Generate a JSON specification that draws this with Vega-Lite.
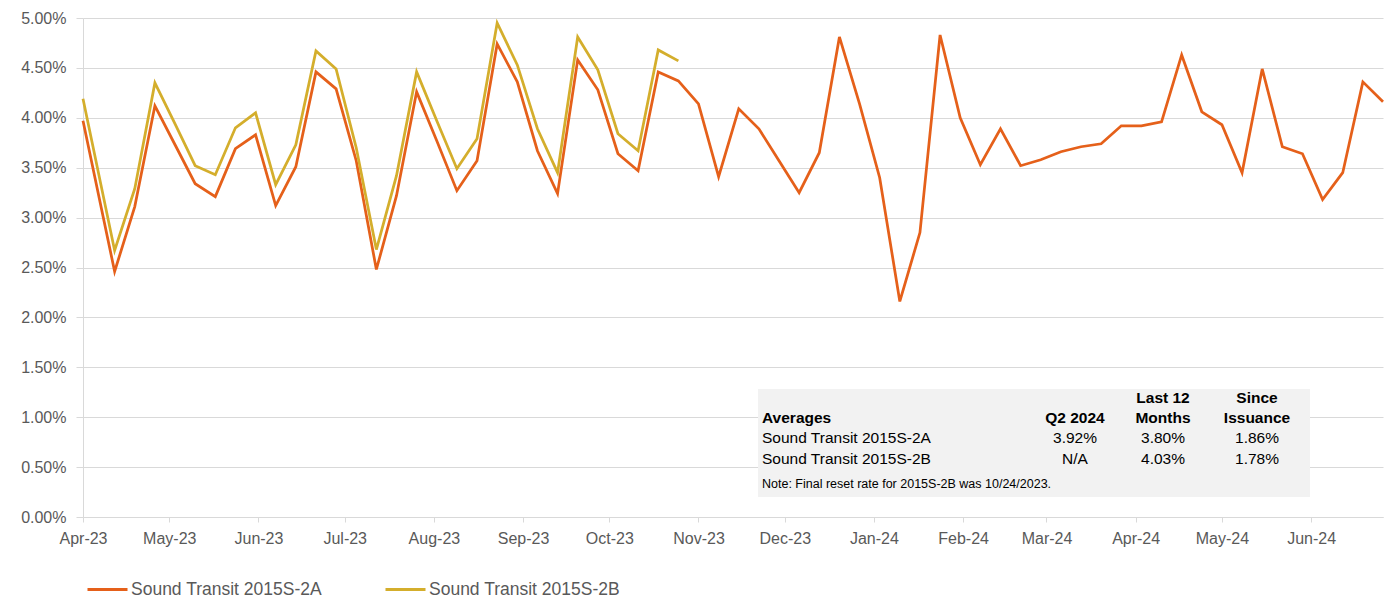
{
  "$schema": "https://vega.github.io/schema/vega-lite/v6.json",
  "width": 1300,
  "height": 499,
  "autosize": {"type": "none"},
  "padding": {"left": 83, "top": 18, "right": 3, "bottom": 83},
  "background": "white",
  "config": {"font": "Liberation Sans", "view": {"stroke": null}},
  "datasets": {
    "rates": [
      {"date": "2023-04-01T00:00", "series": "Sound Transit 2015S-2A", "rate": 0.0397},
      {"date": "2023-04-12T00:00", "series": "Sound Transit 2015S-2A", "rate": 0.0246},
      {"date": "2023-04-19T00:00", "series": "Sound Transit 2015S-2A", "rate": 0.0311},
      {"date": "2023-04-26T00:00", "series": "Sound Transit 2015S-2A", "rate": 0.0412},
      {"date": "2023-05-03T00:00", "series": "Sound Transit 2015S-2A", "rate": 0.0373},
      {"date": "2023-05-10T00:00", "series": "Sound Transit 2015S-2A", "rate": 0.0334},
      {"date": "2023-05-17T00:00", "series": "Sound Transit 2015S-2A", "rate": 0.0321},
      {"date": "2023-05-24T00:00", "series": "Sound Transit 2015S-2A", "rate": 0.0369},
      {"date": "2023-05-31T00:00", "series": "Sound Transit 2015S-2A", "rate": 0.0383},
      {"date": "2023-06-07T00:00", "series": "Sound Transit 2015S-2A", "rate": 0.0312},
      {"date": "2023-06-14T00:00", "series": "Sound Transit 2015S-2A", "rate": 0.0351},
      {"date": "2023-06-21T00:00", "series": "Sound Transit 2015S-2A", "rate": 0.0446},
      {"date": "2023-06-28T00:00", "series": "Sound Transit 2015S-2A", "rate": 0.0429},
      {"date": "2023-07-05T00:00", "series": "Sound Transit 2015S-2A", "rate": 0.0357},
      {"date": "2023-07-12T00:00", "series": "Sound Transit 2015S-2A", "rate": 0.0248},
      {"date": "2023-07-19T00:00", "series": "Sound Transit 2015S-2A", "rate": 0.0322},
      {"date": "2023-07-26T00:00", "series": "Sound Transit 2015S-2A", "rate": 0.0426},
      {"date": "2023-08-02T00:00", "series": "Sound Transit 2015S-2A", "rate": 0.0377},
      {"date": "2023-08-09T00:00", "series": "Sound Transit 2015S-2A", "rate": 0.0327},
      {"date": "2023-08-16T00:00", "series": "Sound Transit 2015S-2A", "rate": 0.0357},
      {"date": "2023-08-23T00:00", "series": "Sound Transit 2015S-2A", "rate": 0.0474},
      {"date": "2023-08-30T00:00", "series": "Sound Transit 2015S-2A", "rate": 0.0436},
      {"date": "2023-09-06T00:00", "series": "Sound Transit 2015S-2A", "rate": 0.0367},
      {"date": "2023-09-13T00:00", "series": "Sound Transit 2015S-2A", "rate": 0.0324},
      {"date": "2023-09-20T00:00", "series": "Sound Transit 2015S-2A", "rate": 0.0458},
      {"date": "2023-09-27T00:00", "series": "Sound Transit 2015S-2A", "rate": 0.0428},
      {"date": "2023-10-04T00:00", "series": "Sound Transit 2015S-2A", "rate": 0.0364},
      {"date": "2023-10-11T00:00", "series": "Sound Transit 2015S-2A", "rate": 0.0347},
      {"date": "2023-10-18T00:00", "series": "Sound Transit 2015S-2A", "rate": 0.0446},
      {"date": "2023-10-25T00:00", "series": "Sound Transit 2015S-2A", "rate": 0.0437},
      {"date": "2023-11-01T00:00", "series": "Sound Transit 2015S-2A", "rate": 0.0414},
      {"date": "2023-11-08T00:00", "series": "Sound Transit 2015S-2A", "rate": 0.0341},
      {"date": "2023-11-15T00:00", "series": "Sound Transit 2015S-2A", "rate": 0.0409},
      {"date": "2023-11-22T00:00", "series": "Sound Transit 2015S-2A", "rate": 0.0389},
      {"date": "2023-11-29T00:00", "series": "Sound Transit 2015S-2A", "rate": 0.0357},
      {"date": "2023-12-06T00:00", "series": "Sound Transit 2015S-2A", "rate": 0.0325},
      {"date": "2023-12-13T00:00", "series": "Sound Transit 2015S-2A", "rate": 0.0365},
      {"date": "2023-12-20T00:00", "series": "Sound Transit 2015S-2A", "rate": 0.0481},
      {"date": "2023-12-27T00:00", "series": "Sound Transit 2015S-2A", "rate": 0.0414},
      {"date": "2024-01-03T00:00", "series": "Sound Transit 2015S-2A", "rate": 0.0340},
      {"date": "2024-01-10T00:00", "series": "Sound Transit 2015S-2A", "rate": 0.0216},
      {"date": "2024-01-17T00:00", "series": "Sound Transit 2015S-2A", "rate": 0.0285},
      {"date": "2024-01-24T00:00", "series": "Sound Transit 2015S-2A", "rate": 0.0483},
      {"date": "2024-01-31T00:00", "series": "Sound Transit 2015S-2A", "rate": 0.0400},
      {"date": "2024-02-07T00:00", "series": "Sound Transit 2015S-2A", "rate": 0.0353},
      {"date": "2024-02-14T00:00", "series": "Sound Transit 2015S-2A", "rate": 0.0389},
      {"date": "2024-02-21T00:00", "series": "Sound Transit 2015S-2A", "rate": 0.0352},
      {"date": "2024-02-28T00:00", "series": "Sound Transit 2015S-2A", "rate": 0.0358},
      {"date": "2024-03-06T00:00", "series": "Sound Transit 2015S-2A", "rate": 0.0366},
      {"date": "2024-03-13T00:00", "series": "Sound Transit 2015S-2A", "rate": 0.0371},
      {"date": "2024-03-20T00:00", "series": "Sound Transit 2015S-2A", "rate": 0.0374},
      {"date": "2024-03-27T00:00", "series": "Sound Transit 2015S-2A", "rate": 0.0392},
      {"date": "2024-04-03T00:00", "series": "Sound Transit 2015S-2A", "rate": 0.0392},
      {"date": "2024-04-10T00:00", "series": "Sound Transit 2015S-2A", "rate": 0.0396},
      {"date": "2024-04-17T00:00", "series": "Sound Transit 2015S-2A", "rate": 0.0463},
      {"date": "2024-04-24T00:00", "series": "Sound Transit 2015S-2A", "rate": 0.0406},
      {"date": "2024-05-01T00:00", "series": "Sound Transit 2015S-2A", "rate": 0.0393},
      {"date": "2024-05-08T00:00", "series": "Sound Transit 2015S-2A", "rate": 0.0345},
      {"date": "2024-05-15T00:00", "series": "Sound Transit 2015S-2A", "rate": 0.0449},
      {"date": "2024-05-22T00:00", "series": "Sound Transit 2015S-2A", "rate": 0.0371},
      {"date": "2024-05-29T00:00", "series": "Sound Transit 2015S-2A", "rate": 0.0364},
      {"date": "2024-06-05T00:00", "series": "Sound Transit 2015S-2A", "rate": 0.0318},
      {"date": "2024-06-12T00:00", "series": "Sound Transit 2015S-2A", "rate": 0.0345},
      {"date": "2024-06-19T00:00", "series": "Sound Transit 2015S-2A", "rate": 0.0436},
      {"date": "2024-06-26T00:00", "series": "Sound Transit 2015S-2A", "rate": 0.0416},
      {"date": "2023-04-01T00:00", "series": "Sound Transit 2015S-2B", "rate": 0.0419},
      {"date": "2023-04-12T00:00", "series": "Sound Transit 2015S-2B", "rate": 0.0267},
      {"date": "2023-04-19T00:00", "series": "Sound Transit 2015S-2B", "rate": 0.0329},
      {"date": "2023-04-26T00:00", "series": "Sound Transit 2015S-2B", "rate": 0.0435},
      {"date": "2023-05-03T00:00", "series": "Sound Transit 2015S-2B", "rate": 0.0394},
      {"date": "2023-05-10T00:00", "series": "Sound Transit 2015S-2B", "rate": 0.0352},
      {"date": "2023-05-17T00:00", "series": "Sound Transit 2015S-2B", "rate": 0.0343},
      {"date": "2023-05-24T00:00", "series": "Sound Transit 2015S-2B", "rate": 0.0390},
      {"date": "2023-05-31T00:00", "series": "Sound Transit 2015S-2B", "rate": 0.0405},
      {"date": "2023-06-07T00:00", "series": "Sound Transit 2015S-2B", "rate": 0.0333},
      {"date": "2023-06-14T00:00", "series": "Sound Transit 2015S-2B", "rate": 0.0373},
      {"date": "2023-06-21T00:00", "series": "Sound Transit 2015S-2B", "rate": 0.0467},
      {"date": "2023-06-28T00:00", "series": "Sound Transit 2015S-2B", "rate": 0.0449},
      {"date": "2023-07-05T00:00", "series": "Sound Transit 2015S-2B", "rate": 0.0370},
      {"date": "2023-07-12T00:00", "series": "Sound Transit 2015S-2B", "rate": 0.0268},
      {"date": "2023-07-19T00:00", "series": "Sound Transit 2015S-2B", "rate": 0.0342},
      {"date": "2023-07-26T00:00", "series": "Sound Transit 2015S-2B", "rate": 0.0446},
      {"date": "2023-08-02T00:00", "series": "Sound Transit 2015S-2B", "rate": 0.0397},
      {"date": "2023-08-09T00:00", "series": "Sound Transit 2015S-2B", "rate": 0.0349},
      {"date": "2023-08-16T00:00", "series": "Sound Transit 2015S-2B", "rate": 0.0379},
      {"date": "2023-08-23T00:00", "series": "Sound Transit 2015S-2B", "rate": 0.0495},
      {"date": "2023-08-30T00:00", "series": "Sound Transit 2015S-2B", "rate": 0.0453},
      {"date": "2023-09-06T00:00", "series": "Sound Transit 2015S-2B", "rate": 0.0389},
      {"date": "2023-09-13T00:00", "series": "Sound Transit 2015S-2B", "rate": 0.0345},
      {"date": "2023-09-20T00:00", "series": "Sound Transit 2015S-2B", "rate": 0.0481},
      {"date": "2023-09-27T00:00", "series": "Sound Transit 2015S-2B", "rate": 0.0448},
      {"date": "2023-10-04T00:00", "series": "Sound Transit 2015S-2B", "rate": 0.0384},
      {"date": "2023-10-11T00:00", "series": "Sound Transit 2015S-2B", "rate": 0.0367},
      {"date": "2023-10-18T00:00", "series": "Sound Transit 2015S-2B", "rate": 0.0468},
      {"date": "2023-10-25T00:00", "series": "Sound Transit 2015S-2B", "rate": 0.0457}
    ],
    "averages": [
      {"series": "Sound Transit 2015S-2A", "q2": "3.92%", "l12": "3.80%", "since": "1.86%"},
      {"series": "Sound Transit 2015S-2B", "q2": "N/A", "l12": "4.03%", "since": "1.78%"}
    ]
  },
  "resolve": {"scale": {"y": "independent"}},
  "layer": [
    {
      "data": {"name": "rates"},
      "mark": {"type": "line", "strokeWidth": 2.75},
      "encoding": {
        "x": {
          "field": "date",
          "type": "temporal",
          "scale": {
            "domain": [{"year": 2023, "month": 4, "date": 1}, {"year": 2024, "month": 6, "date": 26}],
            "nice": false
          },
          "axis": {
            "title": null,
            "format": "%b-%y",
            "tickCount": {"interval": "month", "step": 1},
            "labelFlush": false,
            "labelOverlap": false,
            "grid": false,
            "tickSize": 5,
            "tickColor": "#D9D9D9",
            "domainColor": "#D9D9D9",
            "labelFontSize": 16,
            "labelColor": "#595959",
            "labelPadding": 8
          }
        },
        "y": {
          "field": "rate",
          "type": "quantitative",
          "scale": {"domain": [0, 0.05], "nice": false},
          "axis": {
            "title": null,
            "format": ".2%",
            "values": [0, 0.005, 0.01, 0.015, 0.02, 0.025, 0.03, 0.035, 0.04, 0.045, 0.05],
            "tickSize": 7,
            "tickColor": "#D9D9D9",
            "domainColor": "#D9D9D9",
            "gridColor": "#D9D9D9",
            "labelFontSize": 16,
            "labelColor": "#595959",
            "labelPadding": 10
          }
        },
        "color": {
          "field": "series",
          "type": "nominal",
          "scale": {
            "domain": ["Sound Transit 2015S-2A", "Sound Transit 2015S-2B"],
            "range": ["#E5601A", "#D4AE2C"]
          },
          "legend": {
            "title": null,
            "orient": "none",
            "legendX": 3,
            "legendY": 550,
            "direction": "horizontal",
            "symbolType": "stroke",
            "symbolSize": 1600,
            "symbolStrokeWidth": 3,
            "labelFontSize": 17.5,
            "labelColor": "#595959",
            "labelLimit": 0,
            "labelOffset": 2,
            "columnPadding": 57,
            "padding": 0
          }
        }
      }
    },
    {
      "data": {"values": [{}]},
      "mark": {"type": "rect", "color": "#F2F2F2"},
      "encoding": {
        "x": {"value": 675},
        "x2": {"value": 1227},
        "y": {"value": 371},
        "y2": {"value": 479}
      }
    },
    {
      "data": {"name": "averages"},
      "layer": [
        {
          "mark": {"type": "text", "align": "left", "baseline": "middle", "fontSize": 15.5, "color": "#000000"},
          "encoding": {
            "x": {"value": 679},
            "y": {"field": "series", "type": "nominal", "scale": {"type": "point", "domain": ["Sound Transit 2015S-2A", "Sound Transit 2015S-2B"], "range": [420, 441], "padding": 0}, "axis": null},
            "text": {"field": "series"}
          }
        },
        {
          "mark": {"type": "text", "align": "center", "baseline": "middle", "fontSize": 15.5, "color": "#000000"},
          "encoding": {
            "x": {"value": 992},
            "y": {"field": "series", "type": "nominal", "axis": null},
            "text": {"field": "q2"}
          }
        },
        {
          "mark": {"type": "text", "align": "center", "baseline": "middle", "fontSize": 15.5, "color": "#000000"},
          "encoding": {
            "x": {"value": 1080},
            "y": {"field": "series", "type": "nominal", "axis": null},
            "text": {"field": "l12"}
          }
        },
        {
          "mark": {"type": "text", "align": "center", "baseline": "middle", "fontSize": 15.5, "color": "#000000"},
          "encoding": {
            "x": {"value": 1174},
            "y": {"field": "series", "type": "nominal", "axis": null},
            "text": {"field": "since"}
          }
        }
      ]
    },
    {
      "data": {"values": [{"label": "Averages"}]},
      "mark": {"type": "text", "align": "left", "baseline": "middle", "fontSize": 15.5, "fontWeight": "bold", "color": "#000000"},
      "encoding": {"x": {"value": 679}, "y": {"value": 400}, "text": {"field": "label"}}
    },
    {
      "data": {"values": [{"label": "Q2 2024"}]},
      "mark": {"type": "text", "align": "center", "baseline": "middle", "fontSize": 15.5, "fontWeight": "bold", "color": "#000000"},
      "encoding": {"x": {"value": 992}, "y": {"value": 400}, "text": {"field": "label"}}
    },
    {
      "data": {"values": [{"l1": "Last 12", "l2": "Months"}]},
      "layer": [
        {
          "mark": {"type": "text", "align": "center", "baseline": "middle", "fontSize": 15.5, "fontWeight": "bold", "color": "#000000"},
          "encoding": {"x": {"value": 1080}, "y": {"value": 380}, "text": {"field": "l1"}}
        },
        {
          "mark": {"type": "text", "align": "center", "baseline": "middle", "fontSize": 15.5, "fontWeight": "bold", "color": "#000000"},
          "encoding": {"x": {"value": 1080}, "y": {"value": 400}, "text": {"field": "l2"}}
        }
      ]
    },
    {
      "data": {"values": [{"l1": "Since", "l2": "Issuance"}]},
      "layer": [
        {
          "mark": {"type": "text", "align": "center", "baseline": "middle", "fontSize": 15.5, "fontWeight": "bold", "color": "#000000"},
          "encoding": {"x": {"value": 1174}, "y": {"value": 380}, "text": {"field": "l1"}}
        },
        {
          "mark": {"type": "text", "align": "center", "baseline": "middle", "fontSize": 15.5, "fontWeight": "bold", "color": "#000000"},
          "encoding": {"x": {"value": 1174}, "y": {"value": 400}, "text": {"field": "l2"}}
        }
      ]
    },
    {
      "data": {"values": [{"note": "Note: Final reset rate for 2015S-2B was 10/24/2023."}]},
      "mark": {"type": "text", "align": "left", "baseline": "middle", "fontSize": 12.5, "color": "#000000"},
      "encoding": {"x": {"value": 679}, "y": {"value": 466}, "text": {"field": "note"}}
    }
  ]
}
